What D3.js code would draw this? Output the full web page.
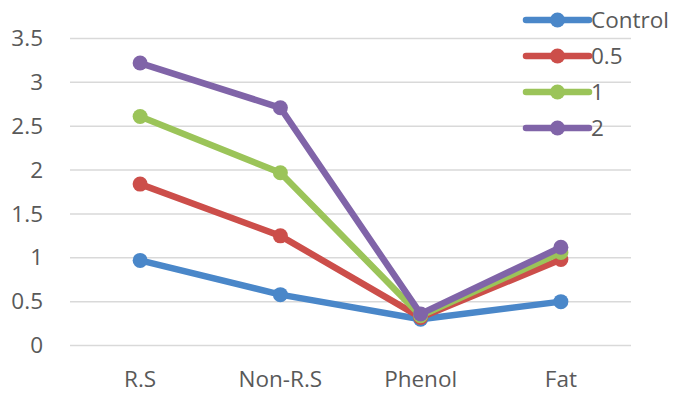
<!DOCTYPE html>
<html><head><meta charset="utf-8">
<script src="https://cdn.jsdelivr.net/npm/d3@7"></script>
<style>html,body{margin:0;padding:0;background:#fff;}</style>
</head><body>
<script>
const categories = ["R.S", "Non-R.S", "Phenol", "Fat"];
const seriesNames = ["Control", "0.5", "1", "2"];
const control = [0.97, 0.58, 0.30, 0.50];
const dose05 = [1.84, 1.25, 0.32, 0.98];
const dose1 = [2.61, 1.97, 0.34, 1.06];
const dose2 = [3.22, 2.71, 0.36, 1.12];
const yTicks = [0, 0.5, 1, 1.5, 2, 2.5, 3, 3.5];
const colors = ["#4a87c9", "#cc4e4a", "#9bc459", "#8064a8"];

const seriesValues = [control, dose05, dose1, dose2];
const W = 675, H = 394;
const FS = 22.5;
const svg = d3.select("body").append("svg").attr("width", W).attr("height", H)
  .style("font-family", "'Open Sans', sans-serif");

const x = d3.scaleBand().domain(categories).range([70, 631]);
const y = d3.scaleLinear().domain([0, 3.5]).range([345.5, 38.5]);

// gridlines
svg.append("g").selectAll("line").data(yTicks).join("line")
  .attr("x1", 70).attr("x2", 631)
  .attr("y1", d => y(d)).attr("y2", d => y(d))
  .attr("stroke", "#d9d9d9").attr("stroke-width", 1.5);

// y axis labels
const yAxis = svg.append("g").attr("transform", "translate(70,0)")
  .call(d3.axisLeft(y).tickValues(yTicks).tickSize(0).tickPadding(27).tickFormat(d3.format("")));
yAxis.select(".domain").remove();
yAxis.selectAll("text").attr("font-size", FS).attr("fill", "#595959")
  .attr("font-family", "'Open Sans', sans-serif");

// x axis labels
const xAxis = svg.append("g").attr("transform", "translate(0,345.5)")
  .call(d3.axisBottom(x).tickSize(0).tickPadding(26));
xAxis.select(".domain").remove();
xAxis.selectAll("text").attr("font-size", FS).attr("fill", "#595959")
  .attr("font-family", "'Open Sans', sans-serif");

const cx = d => x(d) + x.bandwidth() / 2;
const line = d3.line().x((d, i) => cx(categories[i])).y(d => y(d));

seriesValues.forEach((vals, si) => {
  const g = svg.append("g");
  g.append("path").datum(vals).attr("d", line).attr("fill", "none")
    .attr("stroke", colors[si]).attr("stroke-width", 6.5).attr("stroke-linejoin", "round");
  g.selectAll("circle").data(vals).join("circle")
    .attr("cx", (d, i) => cx(categories[i])).attr("cy", d => y(d)).attr("r", 7.5)
    .attr("fill", colors[si]);
});

// legend
const leg = svg.append("g");
const legY = d3.scalePoint().domain(seriesNames).range([20, 128]);
seriesNames.forEach((name, i) => {
  const yy = legY(name);
  leg.append("line").attr("x1", 526).attr("x2", 589).attr("y1", yy).attr("y2", yy)
    .attr("stroke", colors[i]).attr("stroke-width", 6.5).attr("stroke-linecap", "round");
  leg.append("circle").attr("cx", 557.5).attr("cy", yy).attr("r", 7.5).attr("fill", colors[i]);
  leg.append("text").attr("x", 591).attr("y", yy).attr("dy", "0.36em")
    .attr("font-size", FS).attr("fill", "#595959").text(name);
});
</script>
</body></html>
